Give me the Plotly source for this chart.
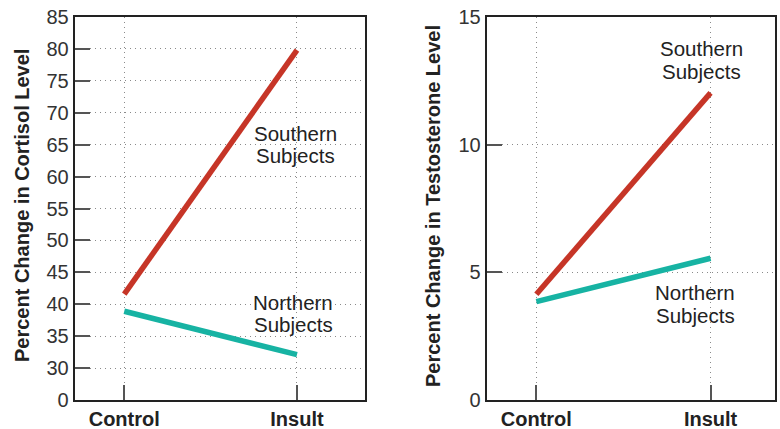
import plotly.graph_objects as go

categories = ["Control", "Insult"]
cortisol_southern = [41.6, 79.8]
cortisol_northern = [38.9, 32.1]
testo_southern = [4.14, 12.03]
testo_northern = [3.85, 5.55]
cortisol_ticks = [25, 30, 35, 40, 45, 50, 55, 60, 65, 70, 75, 80, 85]
cortisol_ticktext = ["0", "30", "35", "40", "45", "50", "55", "60", "65", "70", "75", "80", "85"]
testo_ticks = [0, 5, 10, 15]
testo_ticktext = ["0", "5", "10", "15"]

RED = "#C63527"
TEAL = "#17B3A3"
W, H = 780, 429

fig = go.Figure()
fig.add_trace(go.Scatter(x=categories, y=cortisol_southern, mode="lines",
                         line=dict(color=RED, width=5.5), xaxis="x", yaxis="y"))
fig.add_trace(go.Scatter(x=categories, y=cortisol_northern, mode="lines",
                         line=dict(color=TEAL, width=5.5), xaxis="x", yaxis="y"))
fig.add_trace(go.Scatter(x=categories, y=testo_southern, mode="lines",
                         line=dict(color=RED, width=5.5), xaxis="x2", yaxis="y2"))
fig.add_trace(go.Scatter(x=categories, y=testo_northern, mode="lines",
                         line=dict(color=TEAL, width=5.5), xaxis="x2", yaxis="y2"))

ydom = [1 - 400 / H, 1 - 17 / H]
common_axis = dict(showline=True, linecolor="#222", linewidth=2, mirror=True,
                   ticks="inside", ticklen=15, tickcolor="#555", tickwidth=1.5,
                   showgrid=True, gridcolor="#8a8a8a", griddash="1px,4px", gridwidth=1.2,
                   zeroline=False, fixedrange=True, automargin=False)

xfont = dict(family="Liberation Sans, Arial, sans-serif", size=20, color="#222", weight="bold")
yfont = dict(family="Liberation Sans, Arial, sans-serif", size=20, color="#333")

fig.update_layout(
    width=W, height=H, autosize=False,
    margin=dict(l=0, r=0, t=0, b=0, pad=0, autoexpand=False),
    paper_bgcolor="white", plot_bgcolor="white",
    showlegend=False,
    xaxis=dict(domain=[74.7 / W, 365 / W], type="category", range=[-0.287, 1.394],
               tickfont=xfont, anchor="y", **common_axis),
    yaxis=dict(domain=ydom, range=[25, 85], tickvals=cortisol_ticks, ticktext=cortisol_ticktext,
               tickfont=yfont, anchor="x", **common_axis),
    xaxis2=dict(domain=[486.7 / W, 775 / W], type="category", range=[-0.285, 1.37],
                tickfont=xfont, anchor="y2", **common_axis),
    yaxis2=dict(domain=ydom, range=[0, 15], tickvals=testo_ticks, ticktext=testo_ticktext,
                tickfont=yfont, anchor="x2", **common_axis),
)

def px(x):
    return x / W

def py(y):
    return 1 - y / H

tfont = dict(family="Liberation Sans, Arial, sans-serif", size=20, color="#222", weight="bold")
fig.add_annotation(text="Percent Change in Cortisol Level", x=px(22), y=py(206), xref="paper", yref="paper",
                   textangle=-90, showarrow=False, font=tfont, xanchor="center", yanchor="middle")
fig.add_annotation(text="Percent Change in Testosterone Level", x=px(433), y=py(206), xref="paper", yref="paper",
                   textangle=-90, showarrow=False, font=tfont, xanchor="center", yanchor="middle")

lfont = dict(family="Liberation Sans, Arial, sans-serif", size=20.5, color="#222")
labels = [
    ("Southern", 295, 133), ("Subjects", 295, 155.5),
    ("Northern", 293, 302), ("Subjects", 293, 324.5),
    ("Southern", 701.5, 48.5), ("Subjects", 701.5, 71.5),
    ("Northern", 695, 292.5), ("Subjects", 695, 315.5),
]
for txt, x, y in labels:
    fig.add_annotation(text=txt, x=px(x), y=py(y), xref="paper", yref="paper", showarrow=False,
                       font=lfont, xanchor="center", yanchor="middle")

fig.write_html("out.html", config={"displayModeBar": False},
               post_script="document.body.style.margin='0';")
